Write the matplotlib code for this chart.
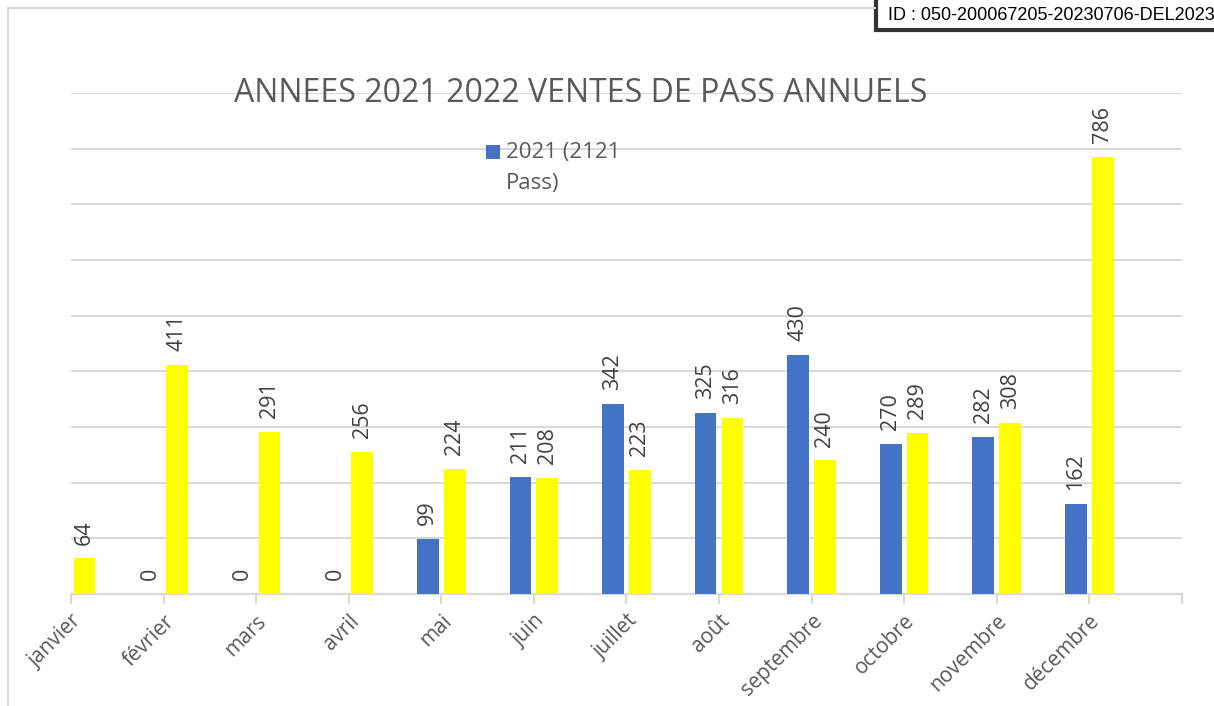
import numpy as np
import matplotlib.pyplot as plt
from matplotlib.lines import Line2D
from matplotlib.patches import Rectangle

# Data
mois = ['janvier', 'février', 'mars', 'avril', 'mai', 'juin', 'juillet',
        'août', 'septembre', 'octobre', 'novembre', 'décembre']
ventes_2021 = [np.nan, 0, 0, 0, 99, 211, 342, 325, 430, 270, 282, 162]
ventes_2022 = [64, 411, 291, 256, 224, 208, 223, 316, 240, 289, 308, 786]

plt.rcParams['font.family'] = ['Open Sans', 'DejaVu Sans']

bleu = '#4472C4'
jaune = '#FFFF00'
gris_grille = '#D9D9D9'

fig = plt.figure(figsize=(12.14, 7.06), dpi=100)
ax = fig.add_axes([0.0585, 0.1586, 0.915, 0.7096])

x = np.arange(len(mois))
w = 0.235
b1 = ax.bar(x - 0.145, ventes_2021, w, color=bleu, zorder=3)
b2 = ax.bar(x + 0.145, ventes_2022, w, color=jaune, zorder=3)

# data labels, rotated like in the original
for xs, vals in ((x - 0.145, ventes_2021), (x + 0.145, ventes_2022)):
    for xi, v in zip(xs, vals):
        if np.isnan(v):
            continue
        ax.annotate(f'{int(v)}', (xi, v), xytext=(0, 10), textcoords='offset points',
                    rotation=90, ha='center', va='bottom', fontsize=15.5, color='#404040')

ax.set_xlim(0, 12)
ax.set_ylim(0, 900)
ax.set_xticks(np.arange(13))
ax.set_xticklabels(mois + [''], rotation=45, ha='right', rotation_mode='anchor',
                   fontsize=15, color='#595959')
ax.tick_params(axis='x', length=7, width=1.5, color=gris_grille, pad=5)
ax.set_yticks(np.arange(0, 901, 100))
ax.tick_params(axis='y', left=False, labelleft=False)
ax.yaxis.grid(True, color=gris_grille, linewidth=1.5, zorder=0)
ax.set_axisbelow(True)
for s in ('top', 'right', 'left'):
    ax.spines[s].set_visible(False)
ax.spines['bottom'].set_color(gris_grille)
ax.spines['bottom'].set_linewidth(1.5)

ax.text(0.459, 1.0, 'ANNEES 2021 2022 VENTES DE PASS ANNUELS', transform=ax.transAxes,
        fontsize=23, color='#595959', ha='center', va='center')

# legend (only the 2021 entry is visible in the original)
ax.add_patch(Rectangle((0.3735, 0.868), 0.0126, 0.028, transform=ax.transAxes,
                       facecolor=bleu, edgecolor='none', clip_on=False))
ax.text(0.3915, 0.85, '2021 (2121\nPass)', transform=ax.transAxes, fontsize=16,
        color='#595959', ha='left', va='center', linespacing=1.6)

# chart border (left and top)
fig.add_artist(Line2D([8 / 1214, 8 / 1214], [0, 1 - 8 / 706], color=gris_grille, lw=1.5))
fig.add_artist(Line2D([8 / 1214, 875 / 1214], [1 - 8 / 706, 1 - 8 / 706], color=gris_grille, lw=1.5))

# ID stamp in the top right corner
fig.add_artist(Rectangle((876 / 1214, 1 - 30 / 706), 0.3, 0.1, facecolor='white',
                         edgecolor='#333333', linewidth=3, transform=fig.transFigure))
fig.text(888 / 1214, 1 - 16 / 706, 'ID : 050-200067205-20230706-DEL2023', fontsize=13,
         family='Liberation Sans', color='black', va='center', ha='left')

fig.savefig('out.png', dpi=100)
